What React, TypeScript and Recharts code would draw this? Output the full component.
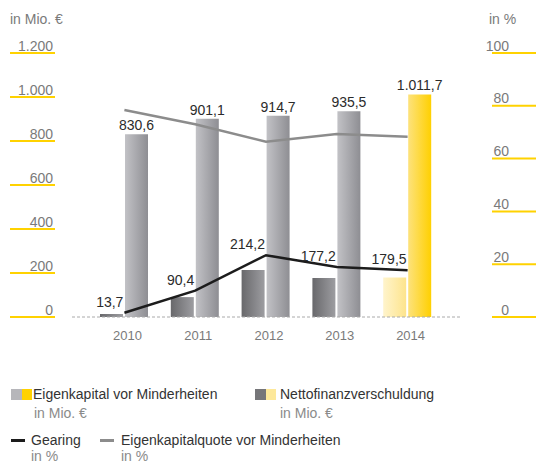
import React from "react";
import {
  Bar,
  Cell,
  ComposedChart,
  LabelList,
  Line,
  XAxis,
  YAxis
} from "recharts";

const years = ["2010", "2011", "2012", "2013", "2014"];
const equity = [830.6, 901.1, 914.7, 935.5, 1011.7];
const netDebt = [13.7, 90.4, 214.2, 177.2, 179.5];
const gearing = [1.6, 10.0, 23.4, 18.9, 17.7];
const equityRatio = [78.4, 73.0, 66.4, 69.3, 68.3];
const leftTicks = [0, 200, 400, 600, 800, 1000, 1200];
const rightTicks = [0, 20, 40, 60, 80, 100];

const data = years.map((year, i) => ({
  year,
  equity: equity[i],
  netDebt: netDebt[i],
  gearing: gearing[i],
  equityRatio: equityRatio[i]
}));

const FONT = '"Liberation Sans", Arial, Helvetica, sans-serif';
const YELLOW = "#ffd200";
const AXIS_TEXT = "#7a7a7a";
const LABEL_TEXT = "#2b2b2b";

// german number format: 1.011,7
const fmtNum = (v: number, digits: number) => {
  const [int, dec] = v.toFixed(digits).split(".");
  const grouped = int.replace(/\B(?=(\d{3})+(?!\d))/g, ".");
  return dec ? `${grouped},${dec}` : grouped;
};

const LeftTick = ({ y, payload }: any) => (
  <g>
    <line x1={10} x2={55} y1={y} y2={y} stroke={YELLOW} strokeWidth={2} />
    <text x={53} y={y - 2.5} textAnchor="end" fill={AXIS_TEXT} fontSize={14} fontFamily={FONT}>
      {fmtNum(payload.value, 0)}
    </text>
  </g>
);

const RightTick = ({ y, payload }: any) => (
  <g>
    <line x1={492} x2={536} y1={y} y2={y} stroke={YELLOW} strokeWidth={2} />
    <text x={509} y={y - 2.5} textAnchor="end" fill={AXIS_TEXT} fontSize={14} fontFamily={FONT}>
      {payload.value}
    </text>
  </g>
);

const YearTick = ({ x, y, payload }: any) => (
  <text x={x + 3} y={y} dy={15} textAnchor="middle" fill={AXIS_TEXT} fontSize={13} fontFamily={FONT}>
    {payload.value}
  </text>
);

const NetDebtLabel = ({ x, y, value }: any) => (
  <text x={x - 1} y={y - 6} textAnchor="end" fill={LABEL_TEXT} fontSize={14} fontFamily={FONT}>
    {fmtNum(value, 1)}
  </text>
);

const EquityLabel = ({ x, y, width, value }: any) => (
  <text x={x + width / 2} y={y - 4} textAnchor="middle" fill={LABEL_TEXT} fontSize={14} fontFamily={FONT}>
    {fmtNum(value, 1)}
  </text>
);

const Swatch = ({ color }: { color: string }) => (
  <span style={{ display: "inline-block", width: 10.5, height: 11, background: color }} />
);

const Dash = ({ color }: { color: string }) => (
  <span style={{ display: "inline-block", width: 14, height: 3, background: color, verticalAlign: "middle" }} />
);

const legendMain: React.CSSProperties = { fontSize: 14, color: "#333", whiteSpace: "nowrap" };
const legendSub: React.CSSProperties = { fontSize: 14, lineHeight: "14px", color: "#8a8a8a", whiteSpace: "nowrap" };

export default function App() {
  return (
    <div
      style={{
        position: "absolute",
        left: 0,
        top: 0,
        width: 536,
        height: 464,
        overflow: "hidden",
        background: "#fff",
        fontFamily: FONT
      }}
    >
      <div style={{ position: "absolute", left: 10, top: 11, fontSize: 14, color: AXIS_TEXT }}>in Mio. €</div>
      <div style={{ position: "absolute", left: 489, top: 11, fontSize: 14, color: AXIS_TEXT }}>in %</div>

      <ComposedChart
        width={536}
        height={464}
        data={data}
        margin={{ top: 53, right: 0, bottom: 117, left: 0 }}
        barGap={2}
        barSize={23}
      >
        <defs>
          <linearGradient id="eqGray" x1="0" y1="0" x2="1" y2="0">
            <stop offset="0%" stopColor="#c2c2c6" />
            <stop offset="100%" stopColor="#8e8e93" />
          </linearGradient>
          <linearGradient id="eqYellow" x1="0" y1="0" x2="1" y2="0">
            <stop offset="0%" stopColor="#fde27c" />
            <stop offset="100%" stopColor="#ffd000" />
          </linearGradient>
          <linearGradient id="ndGray" x1="0" y1="0" x2="1" y2="0">
            <stop offset="0%" stopColor="#68686b" />
            <stop offset="100%" stopColor="#9d9da1" />
          </linearGradient>
          <linearGradient id="ndYellow" x1="0" y1="0" x2="1" y2="0">
            <stop offset="0%" stopColor="#fff4cc" />
            <stop offset="100%" stopColor="#fde48c" />
          </linearGradient>
        </defs>
        <XAxis
          dataKey="year"
          height={30}
          padding={{ left: 17, right: 19 }}
          tickLine={false}
          axisLine={{ stroke: "#aaaaaa", strokeDasharray: "3 2" }}
          tick={<YearTick />}
        />
        <YAxis
          yAxisId="left"
          width={72}
          domain={[0, 1200]}
          ticks={leftTicks}
          axisLine={false}
          tickLine={false}
          tick={<LeftTick />}
        />
        <YAxis
          yAxisId="right"
          orientation="right"
          width={74}
          domain={[0, 100]}
          ticks={rightTicks}
          axisLine={false}
          tickLine={false}
          tick={<RightTick />}
        />
        <Bar yAxisId="left" dataKey="netDebt" isAnimationActive={false}>
          {data.map((d, i) => (
            <Cell key={d.year} fill={i === data.length - 1 ? "url(#ndYellow)" : "url(#ndGray)"} />
          ))}
        </Bar>
        <Bar yAxisId="left" dataKey="equity" isAnimationActive={false}>
          {data.map((d, i) => (
            <Cell key={d.year} fill={i === data.length - 1 ? "url(#eqYellow)" : "url(#eqGray)"} />
          ))}
          <LabelList dataKey="equity" content={<EquityLabel />} />
        </Bar>
        <Line
          yAxisId="right"
          dataKey="equityRatio"
          type="linear"
          stroke="#8c8c8c"
          strokeWidth={2.5}
          dot={false}
          isAnimationActive={false}
        />
        <Line
          yAxisId="right"
          dataKey="gearing"
          type="linear"
          stroke="#1c1c1c"
          strokeWidth={2.5}
          dot={false}
          isAnimationActive={false}
        >
          <LabelList dataKey="netDebt" content={<NetDebtLabel />} />
        </Line>
      </ComposedChart>

      <div style={{ position: "absolute", left: 11, top: 386, display: "flex", alignItems: "center" }}>
        <Swatch color="#b6b6ba" />
        <Swatch color={YELLOW} />
        <span style={{ ...legendMain, marginLeft: 1 }}>Eigenkapital vor Minderheiten</span>
      </div>
      <div style={{ position: "absolute", left: 34, top: 406, ...legendSub }}>in Mio. €</div>

      <div style={{ position: "absolute", left: 255, top: 386, display: "flex", alignItems: "center" }}>
        <Swatch color="#767679" />
        <Swatch color="#fde89a" />
        <span style={{ ...legendMain, marginLeft: 4 }}>Nettofinanzverschuldung</span>
      </div>
      <div style={{ position: "absolute", left: 280, top: 406, ...legendSub }}>in Mio. €</div>

      <div style={{ position: "absolute", left: 11, top: 432, display: "flex", alignItems: "center" }}>
        <Dash color="#1c1c1c" />
        <span style={{ ...legendMain, marginLeft: 6 }}>Gearing</span>
      </div>
      <div style={{ position: "absolute", left: 31, top: 449, ...legendSub }}>in %</div>

      <div style={{ position: "absolute", left: 100, top: 432, display: "flex", alignItems: "center" }}>
        <Dash color="#8c8c8c" />
        <span style={{ ...legendMain, marginLeft: 7 }}>Eigenkapitalquote vor Minderheiten</span>
      </div>
      <div style={{ position: "absolute", left: 121, top: 449, ...legendSub }}>in %</div>
    </div>
  );
}
